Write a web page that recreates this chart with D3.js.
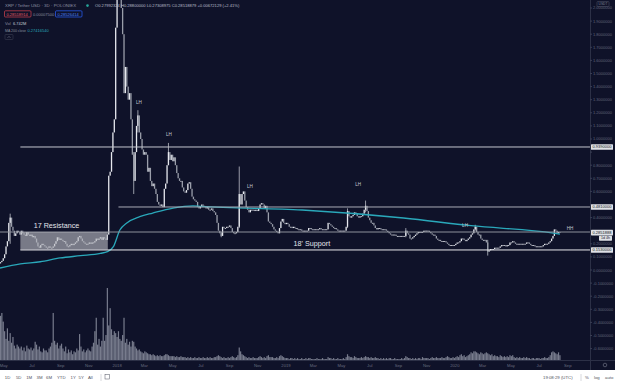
<!doctype html>
<html>
<head>
<meta charset="utf-8"/>
<title>XRP / Tether USD - 3D - POLONIEX</title>
<script src="https://d3js.org/d3.v7.min.js"></script>
<style>
body { margin:0; background:#ffffff; }
svg { display:block; font-family:"Liberation Sans", Arial, sans-serif; }
</style>
</head>
<body>
<script type="text/javascript">
// 3D candles, first candle 2017-04-24, one row per month
var startDate = "2017-04-24";
var firstOpen = 0.05;
var closes = [
 0.06, 0.07, 0.09,
 0.12, 0.18, 0.22, 0.36, 0.40, 0.33, 0.30, 0.26, 0.28, 0.30,
 0.29, 0.27, 0.30, 0.28, 0.27, 0.26, 0.29, 0.27, 0.26, 0.27,
 0.25, 0.26, 0.24, 0.21, 0.18, 0.17, 0.19, 0.20, 0.19, 0.18,
 0.17, 0.17, 0.18, 0.17, 0.17, 0.18, 0.20, 0.22, 0.25, 0.23, 0.24,
 0.23, 0.22, 0.22, 0.20, 0.18, 0.18, 0.19, 0.20, 0.19, 0.20,
 0.21, 0.22, 0.25, 0.26, 0.24, 0.22, 0.21, 0.20, 0.20, 0.20,
 0.21, 0.20, 0.21, 0.21, 0.22, 0.24, 0.23, 0.24, 0.25, 0.23,
 0.25, 0.24, 0.23, 0.27, 0.72, 0.75, 0.90, 1.05, 1.15, 1.85,
 2.30, 3.05, 2.95, 2.00, 1.80, 1.35, 1.55, 1.40, 1.30, 1.35, 1.15,
 0.88, 0.68, 0.90, 1.10, 1.18, 1.05, 1.00, 0.92, 0.88,
 0.90, 0.88, 0.75, 0.78, 0.68, 0.64, 0.66, 0.62, 0.58, 0.52,
 0.50, 0.49, 0.50, 0.48, 0.62, 0.66, 0.80, 0.90, 0.84, 0.88,
 0.83, 0.86, 0.80, 0.74, 0.70, 0.68, 0.68, 0.63, 0.60, 0.59, 0.61,
 0.66, 0.67, 0.62, 0.56, 0.54, 0.53, 0.52, 0.48, 0.47, 0.48,
 0.50, 0.49, 0.48, 0.47, 0.48, 0.46, 0.46, 0.47, 0.45, 0.44,
 0.42, 0.36, 0.30, 0.28, 0.26, 0.33, 0.32, 0.32, 0.33, 0.33,
 0.34, 0.32, 0.29, 0.28, 0.28, 0.29, 0.33, 0.58, 0.50, 0.58,
 0.60, 0.53, 0.48, 0.46, 0.44, 0.46, 0.46, 0.46, 0.45, 0.46, 0.45,
 0.47, 0.50, 0.51, 0.50, 0.47, 0.49, 0.44, 0.37, 0.36, 0.35,
 0.33, 0.31, 0.30, 0.29, 0.28, 0.32, 0.37, 0.39, 0.36, 0.35,
 0.36, 0.35, 0.33, 0.33, 0.32, 0.33, 0.32, 0.32, 0.31, 0.31,
 0.31, 0.30, 0.30, 0.30, 0.30, 0.30, 0.32, 0.32, 0.31, 0.31,
 0.31, 0.31, 0.31, 0.31, 0.32, 0.31, 0.31, 0.31, 0.31, 0.31,
 0.36, 0.35, 0.34, 0.33, 0.32, 0.32, 0.31, 0.30, 0.30, 0.30,
 0.30, 0.30, 0.30, 0.33, 0.45, 0.41, 0.40, 0.41, 0.42, 0.44,
 0.43, 0.41, 0.40, 0.41, 0.41, 0.43, 0.46, 0.49, 0.45, 0.40,
 0.38, 0.36, 0.36, 0.34, 0.32, 0.31, 0.32, 0.32, 0.31, 0.31, 0.31,
 0.31, 0.30, 0.29, 0.28, 0.27, 0.27, 0.27, 0.27, 0.26, 0.26,
 0.26, 0.26, 0.26, 0.26, 0.26, 0.30, 0.28, 0.27, 0.24, 0.24,
 0.25, 0.26, 0.27, 0.28, 0.29, 0.29, 0.29, 0.29, 0.30, 0.30,
 0.30, 0.30, 0.29, 0.28, 0.27, 0.27, 0.26, 0.24, 0.23, 0.23,
 0.22, 0.22, 0.22, 0.22, 0.21, 0.20, 0.19, 0.19, 0.19, 0.19, 0.19,
 0.20, 0.21, 0.21, 0.22, 0.24, 0.24, 0.23, 0.22, 0.23, 0.24,
 0.25, 0.27, 0.28, 0.31, 0.33, 0.29, 0.27, 0.27, 0.24, 0.23,
 0.23, 0.23, 0.21, 0.14, 0.15, 0.16, 0.16, 0.16, 0.17, 0.17,
 0.17, 0.17, 0.18, 0.19, 0.19, 0.19, 0.18, 0.19, 0.19, 0.21,
 0.21, 0.22, 0.21, 0.20, 0.20, 0.20, 0.20, 0.20, 0.20, 0.20,
 0.20, 0.21, 0.21, 0.20, 0.19, 0.19, 0.19, 0.18, 0.18, 0.18,
 0.18, 0.18, 0.18, 0.19, 0.20, 0.20, 0.20, 0.21, 0.22, 0.24, 0.26,
 0.31, 0.30, 0.28, 0.29, 0.2852
];

var volumes = [
 46, 49, 40,
 30, 22, 33, 20, 28, 18, 24, 15, 12, 16,
 14, 12, 14, 10, 13, 9, 15, 12, 11, 13,
 10, 12, 19, 16, 11, 14, 9, 8, 12, 10,
 10, 8, 12, 14, 18, 49, 20, 16, 18, 12, 15,
 17, 12, 9, 14, 7, 11, 8, 10, 6, 9,
 8, 12, 10, 27, 14, 9, 11, 8, 10, 12,
 10, 9, 14, 18, 30, 44, 16, 22, 14, 20,
 44, 20, 26, 75, 36, 54, 32, 26, 30, 28,
 24, 30, 22, 20, 26, 44, 18, 22, 16, 19, 14,
 20, 19, 14, 12, 10, 11, 9, 8, 7,
 9, 8, 7, 6, 6, 5, 6, 5, 4, 5,
 4, 5, 4, 4, 5, 6, 6, 5, 4, 4,
 4, 4, 3, 4, 3, 3, 4, 3, 3, 3, 2,
 3, 2, 3, 2, 2, 3, 2, 2, 3, 2,
 2, 3, 2, 2, 3, 2, 3, 2, 2, 3,
 3, 4, 5, 4, 3, 2, 3, 2, 2, 3,
 2, 3, 4, 3, 2, 3, 5, 13, 9, 6,
 5, 4, 3, 2, 3, 2, 2, 3, 2, 2, 2,
 3, 4, 3, 2, 3, 2, 4, 5, 3, 3,
 3, 2, 2, 3, 2, 4, 5, 4, 3, 2,
 2, 2, 1, 2, 2, 1, 2, 1, 2, 1,
 1, 2, 1, 1, 2, 1, 2, 2, 1, 1,
 1, 1, 2, 1, 1, 1, 2, 1, 1, 1,
 3, 2, 2, 1, 2, 1, 1, 2, 1, 1,
 1, 2, 1, 3, 6, 4, 3, 3, 2, 4,
 3, 2, 2, 2, 3, 2, 3, 4, 3, 3,
 2, 3, 2, 2, 3, 2, 2, 1, 2, 1, 2,
 1, 2, 1, 2, 2, 1, 1, 2, 1, 1,
 1, 1, 2, 1, 2, 4, 3, 2, 2, 1,
 2, 1, 2, 1, 2, 2, 1, 3, 2, 2,
 2, 2, 1, 2, 3, 2, 2, 3, 2, 2,
 2, 3, 2, 2, 3, 4, 3, 2, 2, 3, 2,
 3, 4, 3, 5, 6, 4, 5, 3, 4, 5,
 6, 8, 7, 9, 9, 8, 7, 6, 8, 7,
 6, 7, 8, 7, 6, 5, 6, 4, 5, 4,
 4, 3, 5, 4, 3, 4, 3, 4, 3, 5,
 4, 5, 3, 2, 3, 2, 3, 2, 2, 3,
 2, 3, 2, 2, 1, 2, 2, 1, 2, 2,
 2, 1, 2, 2, 3, 2, 2, 3, 5, 8, 9,
 8, 7, 6, 8, 5
];

// candles with visible wicks
var wickDates = ["2017-05-15", "2018-01-04", "2018-02-06", "2018-02-15", "2018-04-22", "2018-08-14",
                 "2018-09-22", "2019-05-14", "2019-06-22", "2019-09-17", "2020-02-14", "2020-03-12"];
var wickHigh  = [0.43, 3.30, 0.90, 1.22, 0.97, 0.29, 0.79, 0.47, 0.53, 0.32, 0.345, 0.23];
var wickLow   = [0.20, 2.20, 0.58, 1.05, 0.80, 0.25, 0.32, 0.32, 0.44, 0.25, 0.30, 0.11];

// MA 200 close
var maDates = ["2017-04-23", "2017-06-06", "2017-07-19", "2017-08-31", "2017-10-14", "2017-11-26",
               "2017-12-11", "2017-12-24", "2018-01-07", "2018-01-22", "2018-02-19", "2018-03-19",
               "2018-05-02", "2018-06-14", "2018-07-01", "2019-02-05", "2019-09-12", "2020-02-05",
               "2020-08-01", "2020-08-15"];
var maValues = [0.015, 0.046, 0.063, 0.092, 0.109, 0.127, 0.140, 0.178, 0.305, 0.359, 0.407, 0.435,
                0.473, 0.490, 0.486, 0.458, 0.397, 0.338, 0.282, 0.2742];

// horizontal levels
var levelValues = [0.939, 0.481, 0.290, 0.153];
var levelStarts = ["2017-06-06", "2018-01-04", "2017-04-23", "2017-06-06"];
var levelLabels = ["0.9390000", "0.4810000", null, "0.1530000"];

var boxDates = ["2017-06-06", "2017-12-12"];
var boxValues = [0.290, 0.153];

var markText  = ["LH", "LH", "LH", "LH", "LH", "HH"];
var markDates = ["2018-02-17", "2018-04-23", "2018-10-15", "2019-06-06", "2020-01-23", "2020-09-06"];
var markValues = [1.282, 1.031, 0.634, 0.649, 0.336, 0.313];

var noteText = ["17 Resistance", "18' Support"];
var noteDates = ["2017-08-23", "2019-02-26"];
var noteValues = [0.324, 0.187];

var lastPrice = 0.2852, lastLabel = "0.2851888", countdown = "1d 4h";

var priceTicks = d3.range(-6, 21).map(function(k){ return k / 10; });
var rangeButtons = ["1D", "5D", "1M", "3M", "6M", "YTD", "1Y", "5Y", "All"];

var W = 619, H = 390, plotRight = 590, chartBottom = 360, paneRight = 615, paneBottom = 370;
var bg = "#0f1229";

var svg = d3.select("body").append("svg").attr("width", W).attr("height", H);
svg.append("rect").attr("width", W).attr("height", H).attr("fill", "#ffffff");
svg.append("rect").attr("width", paneRight).attr("height", paneBottom).attr("fill", bg);

var parse = d3.utcParse("%Y-%m-%d");
var x = d3.scaleUtc().domain([parse("2017-04-23"), parse("2020-10-19")]).range([0, plotRight]);
var y = d3.scaleLinear().domain([-0.687, 2.061]).range([chartBottom, 0]);
var yVol = d3.scaleLinear().domain([0, 75]).range([0, 72]);

var t0 = parse(startDate), step = 3 * 864e5;
var candles = closes.map(function(c, i){
  return {date: new Date(+t0 + i * step), open: i ? closes[i-1] : firstOpen, close: c, vol: volumes[i], high: null, low: null};
});
wickDates.forEach(function(d, k){
  var i = Math.round((parse(d) - t0) / step);
  if (candles[i]) { candles[i].high = wickHigh[k]; candles[i].low = wickLow[k]; }
});

svg.append("clipPath").attr("id", "plot").append("rect")
  .attr("width", plotRight).attr("height", chartBottom);
var plot = svg.append("g").attr("clip-path", "url(#plot)");

// volume
plot.selectAll("rect.vol").data(candles).enter().append("rect")
  .attr("class", "vol")
  .attr("x", function(d){ return x(d.date) - 0.6; })
  .attr("width", 1.2)
  .attr("y", function(d){ return chartBottom - yVol(d.vol); })
  .attr("height", function(d){ return yVol(d.vol); })
  .attr("fill", "rgba(190,195,208,0.6)");

// wicks
plot.selectAll("line.wick").data(candles.filter(function(d){ return d.high !== null; })).enter().append("line")
  .attr("x1", function(d){ return x(d.date); })
  .attr("x2", function(d){ return x(d.date); })
  .attr("y1", function(d){ return y(d.high); })
  .attr("y2", function(d){ return y(d.low); })
  .attr("stroke", "#d4d7de").attr("stroke-width", 0.7);

// candle bodies
plot.selectAll("rect.body").data(candles).enter().append("rect")
  .attr("x", function(d){ return x(d.date) - 0.65; })
  .attr("width", 1.3)
  .attr("y", function(d){ return y(Math.max(d.open, d.close)); })
  .attr("height", function(d){ return Math.max(0.8, Math.abs(y(d.open) - y(d.close))); })
  .attr("fill", function(d){ return d.close >= d.open ? "#e6e8ee" : "#9a9eaa"; });

// MA 200
var maLine = d3.line()
  .x(function(d, i){ return x(parse(maDates[i])); })
  .y(function(d){ return y(d); })
  .curve(d3.curveMonotoneX);
plot.append("path").datum(maValues)
  .attr("d", maLine).attr("fill", "none")
  .attr("stroke", "#2aa8ba").attr("stroke-width", 1.3);

// level lines
var levelColors = ["#c4c6ce", "#a9acb6", "#8e919c", "#e8e8ec"];
levelValues.forEach(function(v, k){
  plot.append("line")
    .attr("x1", x(parse(levelStarts[k]))).attr("x2", plotRight)
    .attr("y1", y(v)).attr("y2", y(v))
    .attr("stroke", levelColors[k]).attr("stroke-width", 1);
});

// resistance box
plot.append("rect")
  .attr("x", x(parse(boxDates[0])))
  .attr("width", x(parse(boxDates[1])) - x(parse(boxDates[0])))
  .attr("y", y(boxValues[0]))
  .attr("height", y(boxValues[1]) - y(boxValues[0]))
  .attr("fill", "rgba(185,187,194,0.62)");

// LH / HH marks
markText.forEach(function(t, k){
  plot.append("text").attr("x", x(parse(markDates[k]))).attr("y", y(markValues[k]))
    .attr("text-anchor", "middle").attr("dominant-baseline", "central")
    .attr("font-size", 4.6).attr("fill", "#c3c6cf").text(t);
});
noteText.forEach(function(t, k){
  plot.append("text").attr("x", x(parse(noteDates[k]))).attr("y", y(noteValues[k]))
    .attr("text-anchor", "middle")
    .attr("font-size", 7.2).attr("fill", "#e4e6ec").text(t);
});

// separators
svg.append("line").attr("x1", plotRight + 0.5).attr("x2", plotRight + 0.5).attr("y1", 0).attr("y2", paneBottom)
  .attr("stroke", "#2c3046").attr("stroke-width", 1);
svg.append("line").attr("x1", 0).attr("x2", paneRight).attr("y1", chartBottom + 0.5).attr("y2", chartBottom + 0.5)
  .attr("stroke", "#2c3046").attr("stroke-width", 1);

// price axis; tick labels that sit under a price tag are hidden, as on the platform
var tagged = levelValues.filter(function(v, k){ return levelLabels[k]; }).concat([lastPrice]);
var yAxis = svg.append("g");
priceTicks.forEach(function(v){
  yAxis.append("line").attr("x1", plotRight).attr("x2", plotRight + 2).attr("y1", y(v)).attr("y2", y(v))
    .attr("stroke", "#3a3e54");
  var hidden = tagged.some(function(t){ return Math.abs(y(t) - y(v)) < 5.8; }) ||
               Math.abs(y(v) - (y(lastPrice) + 5.5)) < 5;
  if (!hidden) {
    yAxis.append("text").attr("x", 593).attr("y", y(v)).attr("dominant-baseline", "central")
      .attr("font-size", 4).attr("fill", "#62677a").text(v.toFixed(7));
  }
});

function priceBox(v, label) {
  yAxis.append("rect").attr("x", 591).attr("y", y(v) - 2.8).attr("width", 22).attr("height", 5.6)
    .attr("fill", "#dfe1e6").attr("rx", 0.6);
  yAxis.append("text").attr("x", 592.5).attr("y", y(v)).attr("dominant-baseline", "central")
    .attr("font-size", 4).attr("fill", "#131722").text(label);
}
levelValues.forEach(function(v, k){ if (levelLabels[k]) priceBox(v, levelLabels[k]); });
priceBox(lastPrice, lastLabel);
yAxis.append("rect").attr("x", 599).attr("y", y(lastPrice) + 3).attr("width", 13).attr("height", 5)
  .attr("fill", "#dfe1e6").attr("rx", 0.6);
yAxis.append("text").attr("x", 605.5).attr("y", y(lastPrice) + 5.6).attr("text-anchor", "middle")
  .attr("dominant-baseline", "central").attr("font-size", 3.6).attr("fill", "#131722").text(countdown);

// USDT tag
svg.append("rect").attr("x", 597).attr("y", 1.5).attr("width", 12).attr("height", 5)
  .attr("fill", "none").attr("stroke", "#4a4e62").attr("stroke-width", 0.6).attr("rx", 0.8);
svg.append("text").attr("x", 603).attr("y", 4.1).attr("text-anchor", "middle").attr("dominant-baseline", "central")
  .attr("font-size", 3.3).attr("fill", "#7c8092").text("USDT");

// time axis
var xTicks = x.ticks(d3.utcMonth.every(2)).filter(function(d){ return x(d) < plotRight - 4; });
svg.append("g").selectAll("text").data(xTicks).enter().append("text")
  .attr("x", function(d){ return x(d); }).attr("y", 365.5)
  .attr("text-anchor", "middle").attr("dominant-baseline", "central")
  .attr("font-size", 4.2).attr("fill", "#666b7e")
  .text(function(d){ return d.getUTCMonth() === 0 ? d3.utcFormat("%Y")(d) : d3.utcFormat("%b")(d); });

// settings gear
svg.append("circle").attr("cx", 605).attr("cy", 365).attr("r", 1.8)
  .attr("fill", "none").attr("stroke", "#7a7e8e").attr("stroke-width", 0.6);

// legend
var lg = svg.append("g").attr("font-size", 4.4);
lg.append("text").attr("x", 5).attr("y", 7).attr("fill", "#8d91a2").text("XRP / Tether USD · 3D · POLONIEX");
lg.append("circle").attr("cx", 87.5).attr("cy", 5.6).attr("r", 1.3).attr("fill", "#26a69a");
lg.append("text").attr("x", 95).attr("y", 7).attr("font-size", 4.1).attr("fill", "#b9bdc9")
  .text("O0.27992324  H0.28800000  L0.27308975  C0.28518879  +0.00672129 (+2.41%)");
lg.append("rect").attr("x", 4.5).attr("y", 10.8).attr("width", 26.5).attr("height", 6.2)
  .attr("fill", "none").attr("stroke", "#d84350").attr("stroke-width", 0.7).attr("rx", 1);
lg.append("text").attr("x", 6.5).attr("y", 15.5).attr("font-size", 4).attr("fill", "#e65a63").text("0.28518914");
lg.append("text").attr("x", 33).attr("y", 15.5).attr("font-size", 4).attr("fill", "#8a8e9e").text("0.00007500");
lg.append("rect").attr("x", 55.5).attr("y", 10.8).attr("width", 26.5).attr("height", 6.2)
  .attr("fill", "none").attr("stroke", "#2962ff").attr("stroke-width", 0.7).attr("rx", 1);
lg.append("text").attr("x", 57.5).attr("y", 15.5).attr("font-size", 4).attr("fill", "#4a82ff").text("0.28526414");
lg.append("text").attr("x", 5).attr("y", 24.5).attr("font-size", 4).attr("fill", "#8a8e9e").text("Vol");
lg.append("text").attr("x", 13).attr("y", 24.5).attr("font-size", 4).attr("fill", "#c7cbd6").text("6.742M");
lg.append("text").attr("x", 5).attr("y", 31.5).attr("font-size", 3.5).attr("fill", "#8a8e9e").text("MA 200 close");
lg.append("text").attr("x", 27.5).attr("y", 31.5).attr("font-size", 4).attr("fill", "#2aa8ba").text("0.27416540");
lg.append("rect").attr("x", 5).attr("y", 34.5).attr("width", 8).attr("height", 5)
  .attr("fill", "none").attr("stroke", "#3a3e52").attr("stroke-width", 0.6).attr("rx", 0.8);
lg.append("path").attr("d", "M7.6,37.8 L9,36.4 L10.4,37.8").attr("fill", "none")
  .attr("stroke", "#8a8e9e").attr("stroke-width", 0.5);

// bottom toolbar
var btnX = [4.8, 15.9, 26.2, 36.5, 46, 57, 70.6, 78.6, 88];
var tb = svg.append("g").attr("font-size", 4.3).attr("fill", "#4f5260");
rangeButtons.forEach(function(b, k){
  tb.append("text").attr("x", btnX[k]).attr("y", 379).text(b);
});
tb.append("line").attr("x1", 101).attr("x2", 101).attr("y1", 374).attr("y2", 381).attr("stroke", "#d8d9de");
tb.append("rect").attr("x", 105).attr("y", 374.5).attr("width", 4.5).attr("height", 4.5)
  .attr("fill", "none").attr("stroke", "#4f5260").attr("stroke-width", 0.5);
tb.append("text").attr("x", 543).attr("y", 379).text("19:08:29 (UTC)");
tb.append("line").attr("x1", 581).attr("x2", 581).attr("y1", 374).attr("y2", 381).attr("stroke", "#d8d9de");
tb.append("text").attr("x", 585).attr("y", 379).text("%");
tb.append("text").attr("x", 594).attr("y", 379).text("log");
tb.append("text").attr("x", 605).attr("y", 379).text("auto");
</script>
</body>
</html>
